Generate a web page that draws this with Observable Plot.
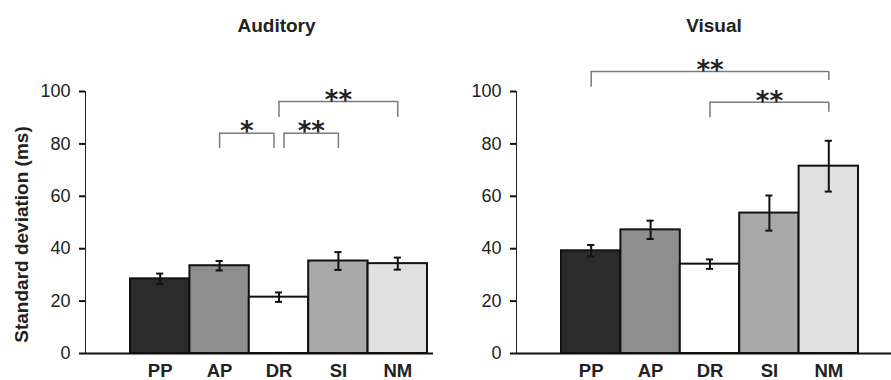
<!DOCTYPE html>
<html><head><meta charset="utf-8">
<script src="https://cdn.jsdelivr.net/npm/d3@7"></script>
<script src="https://cdn.jsdelivr.net/npm/@observablehq/plot@0.6"></script>
<style>
body{margin:0;background:#fff;}
#wrap{display:flex;width:891px;height:380px;}
#wrap svg{display:block;overflow:visible;}
[aria-label^="x-axis"] text{font-weight:bold;font-size:18.5px;}
[aria-label^="y-axis"] text{font-size:18px;}
[aria-label^="y-axis"] path, [aria-label^="y-axis"] line{stroke:#111;stroke-width:2px;}
</style></head><body><div id="wrap"></div>
<script>
const categories = ["PP", "AP", "DR", "SI", "NM"];
const barColors = ["#2b2b2b", "#8e8e8e", "#ffffff", "#a9a9a9", "#e0e0e0"];
const yTicks = [0, 20, 40, 60, 80, 100];

const auditoryMean = [28.5, 33.5, 21.5, 35.3, 34.3];
const auditoryErr  = [2.0, 1.8, 1.8, 3.4, 2.3];
const visualMean   = [39.2, 47.2, 34.1, 53.6, 71.5];
const visualErr    = [2.2, 3.5, 1.8, 6.7, 9.7];

// significance brackets: from / to category, bar height, leg ends, label
const auditoryBrackets = [
  {from: "AP", to: "DR", top: 84.1, legFrom: 78.2, legTo: 78.2, label: "*"},
  {from: "DR", to: "SI", top: 84.1, legFrom: 78.2, legTo: 78.2, label: "**"},
  {from: "DR", to: "NM", top: 96.2, legFrom: 90.1, legTo: 90.1, label: "**"}
];
const visualBrackets = [
  {from: "PP", to: "NM", top: 107.6, legFrom: 101.6, legTo: 104.2, label: "**"},
  {from: "DR", to: "NM", top: 95.9, legFrom: 90.0, legTo: 92.1, label: "**"}
];

const GAP = 0.085;   // nudge where two brackets meet at the same bar (x units)
const CAP = 0.06;    // half width of error-bar caps (x units)

function panel({title, means, errs, brackets, width, marginLeft, marginRight, xRange, yLabel, titleDx}) {
  const rows = categories.map((c, i) => ({cat: c, i, mean: means[i], err: errs[i], color: barColors[i]}));
  const idx = c => categories.indexOf(c);
  const br = brackets.map(b => {
    const endShared = brackets.some(o => o !== b && o.from === b.to && o.top === b.top);
    const startShared = brackets.some(o => o !== b && o.to === b.from && o.top === b.top);
    const x1 = idx(b.from) + (startShared ? GAP : 0);
    const x2 = idx(b.to) - (endShared ? GAP : 0);
    return {...b, x1, x2, xm: (x1 + x2) / 2};
  });
  const marks = [
    Plot.rectY(rows, {x1: d => d.i - 0.5, x2: d => d.i + 0.5, y: "mean", fill: "color", stroke: "#111", strokeWidth: 2}),
    Plot.ruleX(rows, {x: "i", y1: d => d.mean - d.err, y2: d => d.mean + d.err, stroke: "#111", strokeWidth: 2}),
    Plot.ruleY(rows, {x1: d => d.i - CAP, x2: d => d.i + CAP, y: d => d.mean - d.err, stroke: "#111", strokeWidth: 2}),
    Plot.ruleY(rows, {x1: d => d.i - CAP, x2: d => d.i + CAP, y: d => d.mean + d.err, stroke: "#111", strokeWidth: 2}),
    Plot.ruleY([0], {stroke: "#111", strokeWidth: 2}),
    Plot.ruleY(br, {x1: "x1", x2: "x2", y: "top", stroke: "#7a7a7a", strokeWidth: 1.5}),
    Plot.ruleX(br, {x: "x1", y1: "legFrom", y2: "top", stroke: "#7a7a7a", strokeWidth: 1.5}),
    Plot.ruleX(br, {x: "x2", y1: "legTo", y2: "top", stroke: "#7a7a7a", strokeWidth: 1.5}),
    Plot.text(br, {x: "xm", y: "top", text: "label", fontFamily: "DejaVu Sans", fontSize: 26, fontWeight: "bold", fill: "#222", dy: -1}),
    Plot.text([title], {text: d => d, frameAnchor: "top", textAnchor: "middle", lineAnchor: "middle", dx: titleDx, dy: -66, fontSize: 19, fontWeight: "bold", fill: "#222"})
  ];
  if (yLabel) marks.push(Plot.text([yLabel], {text: d => d, frameAnchor: "left", textAnchor: "middle", lineAnchor: "middle", rotate: -90, dx: -64, dy: 12, fontSize: 19, fontWeight: "bold", fill: "#222"}));
  return Plot.plot({
    width, height: 380,
    marginLeft, marginRight, marginTop: 91, marginBottom: 27,
    style: {fontFamily: "'Liberation Sans', Arial, sans-serif", fontSize: "18px", color: "#222", background: "transparent"},
    x: {domain: [-0.5, categories.length - 0.5], range: xRange, ticks: categories.map((c, i) => i), tickFormat: i => categories[i], tickSize: 0, tickPadding: 10, label: null},
    y: {domain: [0, 100], ticks: yTicks, tickSize: 6, tickPadding: 9, line: true, label: null},
    marks
  });
}

const wrap = document.getElementById("wrap");
wrap.append(panel({title: "Auditory", means: auditoryMean, errs: auditoryErr, brackets: auditoryBrackets,
  width: 446, marginLeft: 85, marginRight: 13, xRange: [130, 427], yLabel: "Standard deviation (ms)", titleDx: 17}));
wrap.append(panel({title: "Visual", means: visualMean, errs: visualErr, brackets: visualBrackets,
  width: 445, marginLeft: 70, marginRight: 0, xRange: [115, 412], yLabel: null, titleDx: 10}));
</script></body></html>
